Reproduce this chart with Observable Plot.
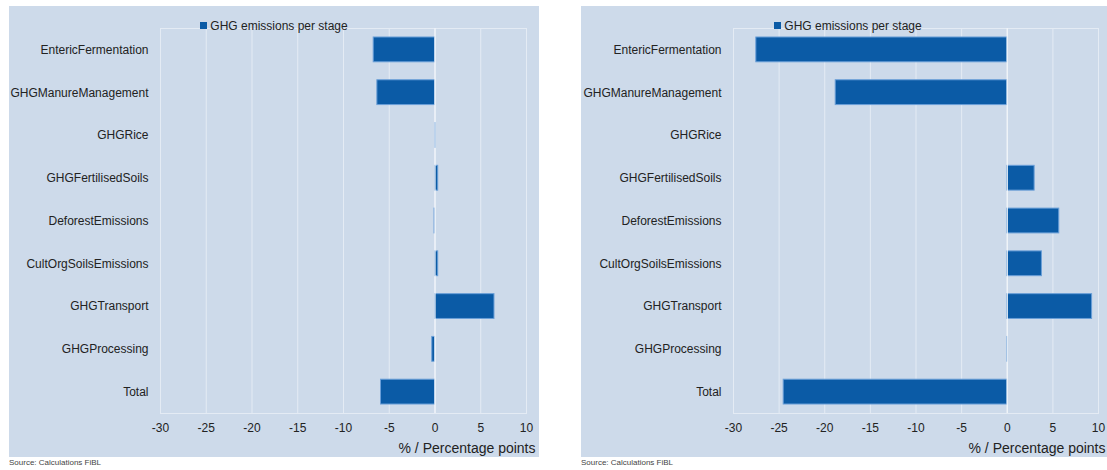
<!DOCTYPE html>
<html>
<head>
<meta charset="utf-8">
<script src="https://cdn.jsdelivr.net/npm/d3@7"></script>
<script src="https://cdn.jsdelivr.net/npm/@observablehq/plot@0.6"></script>
<style>
  html, body { margin: 0; padding: 0; background: #ffffff; overflow: hidden; }
  body { width: 1107px; height: 470px; position: relative; font-family: "Liberation Sans", Arial, sans-serif; }
  .panel { position: absolute; top: 6px; height: 451px; }
  .panel svg { max-width: none !important; display: block; }
  .legend { position: absolute; top: 13px; left: 0; text-align: center; font-size: 12px; color: #222; line-height: 14px; }
  .legend .sw { display: inline-block; width: 7px; height: 7px; background: #0b5ba6; margin-right: 3px; vertical-align: 1px; }
  .source { position: absolute; top: 458px; font-size: 8px; color: #444; }
</style>
</head>
<body>
<div id="left" class="panel" style="left:9px; width:530px;"></div>
<div id="right" class="panel" style="left:581px; width:526px;"></div>
<div class="source" style="left:9px;">Source: Calculations FiBL</div>
<div class="source" style="left:581px;">Source: Calculations FiBL</div>
<script>
const categories = [
  "EntericFermentation", "GHGManureManagement", "GHGRice", "GHGFertilisedSoils",
  "DeforestEmissions", "CultOrgSoilsEmissions", "GHGTransport", "GHGProcessing", "Total"
];
const valuesLeft  = [-6.7, -6.3, 0.1, 0.35, -0.05, 0.35, 6.5, -0.3, -5.9];
const valuesRight = [-27.5, -18.8, 0, 3.0, 5.7, 3.8, 9.3, 0.05, -24.5];
const xTicks = [-30, -25, -20, -15, -10, -5, 0, 5, 10];
const seriesName = "GHG emissions per stage";
const axisTitle = "% / Percentage points";

const BG = "#cddaea";
const BAR = "#0b5ba6";
const BAR_EDGE = "#6a9fd8";

function makeChart(values, opts) {
  const data = categories.map((c, i) => ({stage: c, value: values[i]}));
  return Plot.plot({
    width: opts.width,
    height: 451,
    marginLeft: opts.marginLeft,
    marginRight: opts.marginRight,
    marginTop: 22,
    marginBottom: 44,
    style: {background: BG, fontFamily: "'Liberation Sans', Arial, sans-serif", color: "#222", overflow: "visible", maxWidth: "none"},
    x: {domain: [-30, 10]},
    y: {domain: categories, paddingInner: 0.42, paddingOuter: 0.21, round: false},
    marks: [
      Plot.gridX(xTicks, {stroke: "#e4ebf4", strokeOpacity: 1, strokeWidth: 1}),
      Plot.frame({stroke: "#e4ebf4", strokeWidth: 1}),
      Plot.barX(data, {y: "stage", x: "value", fill: BAR, stroke: BAR_EDGE, strokeWidth: 1}),
      Plot.ruleX([0], {stroke: "#f3f6fa", strokeWidth: 1.2}),
      Plot.axisX({ticks: xTicks, tickSize: 0, tickPadding: 10, fontSize: 12, label: null, tickFormat: d => String(d), fill: "#222"}),
      Plot.axisY({tickSize: 0, tickPadding: 12, fontSize: 12, label: null, fill: "#222"}),
      Plot.text([axisTitle], {text: d => d, frameAnchor: "bottom-right", textAnchor: "end", lineAnchor: "middle", dx: opts.titleDx, dy: 35, fontSize: 14, fill: "#222"})
    ]
  });
}

function mount(id, values, opts) {
  const host = document.getElementById(id);
  host.appendChild(makeChart(values, opts));
  const lg = document.createElement("div");
  lg.className = "legend";
  lg.style.width = opts.legendWidth + "px";
  lg.innerHTML = '<span class="sw"></span>' + seriesName;
  host.appendChild(lg);
}

mount("left", valuesLeft, {width: 530, marginLeft: 151, marginRight: 13, titleDx: 9, legendWidth: 530});
mount("right", valuesRight, {width: 526, marginLeft: 152, marginRight: 9, titleDx: 7, legendWidth: 534});
</script>
</body>
</html>
